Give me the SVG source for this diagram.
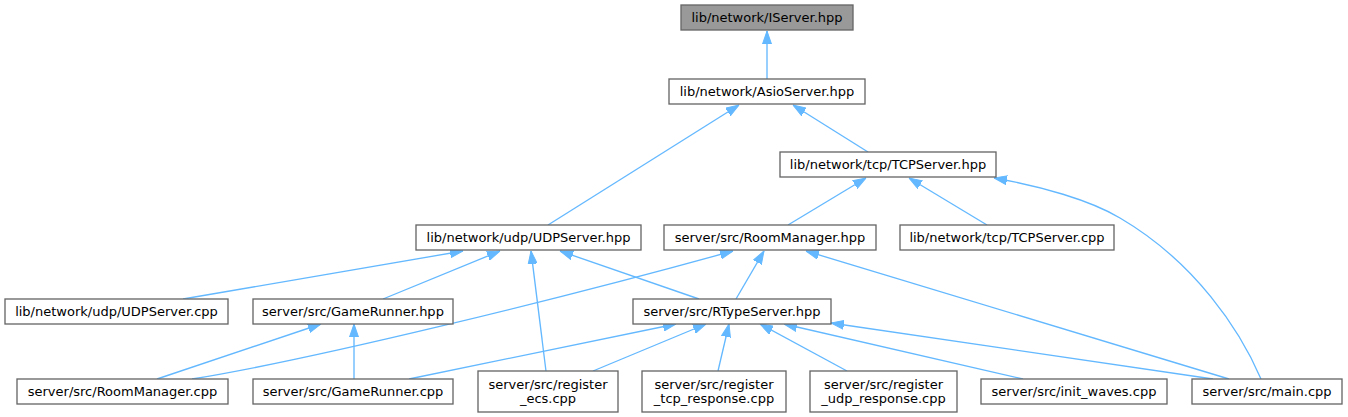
<svg xmlns="http://www.w3.org/2000/svg" width="1348" height="417" viewBox="0 0 1348 417">
<style>
.n rect{fill:#ffffff;stroke:#666666;stroke-width:1.33}
.n.root rect{fill:#999999}
.n text{font-family:"DejaVu Sans",sans-serif;font-size:13px;fill:#000000;text-anchor:middle}
#edges path{fill:none;stroke:#63b8ff;stroke-width:1.33;marker-end:url(#ah)}
</style>
<defs>
<marker id="ah" viewBox="0 0 13 10" refX="13" refY="5" markerWidth="13" markerHeight="10" markerUnits="userSpaceOnUse" orient="auto">
<path d="M0,0.5 L13,5 L0,9.5 z" fill="#63b8ff" stroke="#63b8ff" stroke-width="1"/>
</marker>
</defs>
<rect width="1348" height="417" fill="#ffffff"/>
<g id="edges">
<path d="M767,79 L767,31"/>
<path d="M548,225 L739,105"/>
<path d="M868,152 L793,105"/>
<path d="M788,225 L866,178"/>
<path d="M987,225 L909,178"/>
<path d="M1261,379 C1240,330 1195,262 1120,218 C1090,200 1040,186 994,178"/>
<path d="M183,299 L463,251"/>
<path d="M383,299 L500,251"/>
<path d="M546,371 L531,251"/>
<path d="M699,299 L560,251"/>
<path d="M192,379 C310,360 560,299 733,251"/>
<path d="M736,299 L764,251"/>
<path d="M1229,379 L806,251"/>
<path d="M157,379 L321,324"/>
<path d="M354,379 L354,324"/>
<path d="M409,379 L676,324"/>
<path d="M593,371 L706,324"/>
<path d="M718,371 L729,324"/>
<path d="M847,371 L760,324"/>
<path d="M1023,379 L784,324"/>
<path d="M1213,379 L831,323"/>
</g>
<g id="node1" class="n root"><rect x="681" y="5" width="172" height="25"/><text x="767" y="21.5">lib/network/IServer.hpp</text></g>
<g id="node2" class="n"><rect x="669" y="79" width="196" height="25"/><text x="767" y="95.5">lib/network/AsioServer.hpp</text></g>
<g id="node3" class="n"><rect x="780" y="152" width="216" height="25"/><text x="888" y="168.5">lib/network/tcp/TCPServer.hpp</text></g>
<g id="node4" class="n"><rect x="416" y="225" width="225" height="25"/><text x="528.5" y="241.5">lib/network/udp/UDPServer.hpp</text></g>
<g id="node5" class="n"><rect x="664" y="225" width="212" height="25"/><text x="770" y="241.5">server/src/RoomManager.hpp</text></g>
<g id="node6" class="n"><rect x="900" y="225" width="214" height="25"/><text x="1007" y="241.5">lib/network/tcp/TCPServer.cpp</text></g>
<g id="node7" class="n"><rect x="5" y="299" width="223" height="25"/><text x="116.5" y="315.5">lib/network/udp/UDPServer.cpp</text></g>
<g id="node8" class="n"><rect x="253" y="299" width="200" height="25"/><text x="353" y="315.5">server/src/GameRunner.hpp</text></g>
<g id="node9" class="n"><rect x="633" y="299" width="198" height="25"/><text x="732" y="315.5">server/src/RTypeServer.hpp</text></g>
<g id="node10" class="n"><rect x="17" y="379" width="211" height="25"/><text x="122.5" y="395.5">server/src/RoomManager.cpp</text></g>
<g id="node11" class="n"><rect x="253" y="379" width="200" height="25"/><text x="353" y="395.5">server/src/GameRunner.cpp</text></g>
<g id="node12" class="n"><rect x="478" y="371" width="140" height="41"/><text x="548" y="388.5">server/src/register</text><text x="548" y="403">_ecs.cpp</text></g>
<g id="node13" class="n"><rect x="642" y="371" width="144" height="41"/><text x="714" y="388.5">server/src/register</text><text x="714" y="403">_tcp_response.cpp</text></g>
<g id="node14" class="n"><rect x="810" y="371" width="147" height="41"/><text x="883.5" y="388.5">server/src/register</text><text x="883.5" y="403">_udp_response.cpp</text></g>
<g id="node15" class="n"><rect x="981" y="379" width="186" height="25"/><text x="1074" y="395.5">server/src/init_waves.cpp</text></g>
<g id="node16" class="n"><rect x="1192" y="379" width="150" height="25"/><text x="1267" y="395.5">server/src/main.cpp</text></g>
</svg>
